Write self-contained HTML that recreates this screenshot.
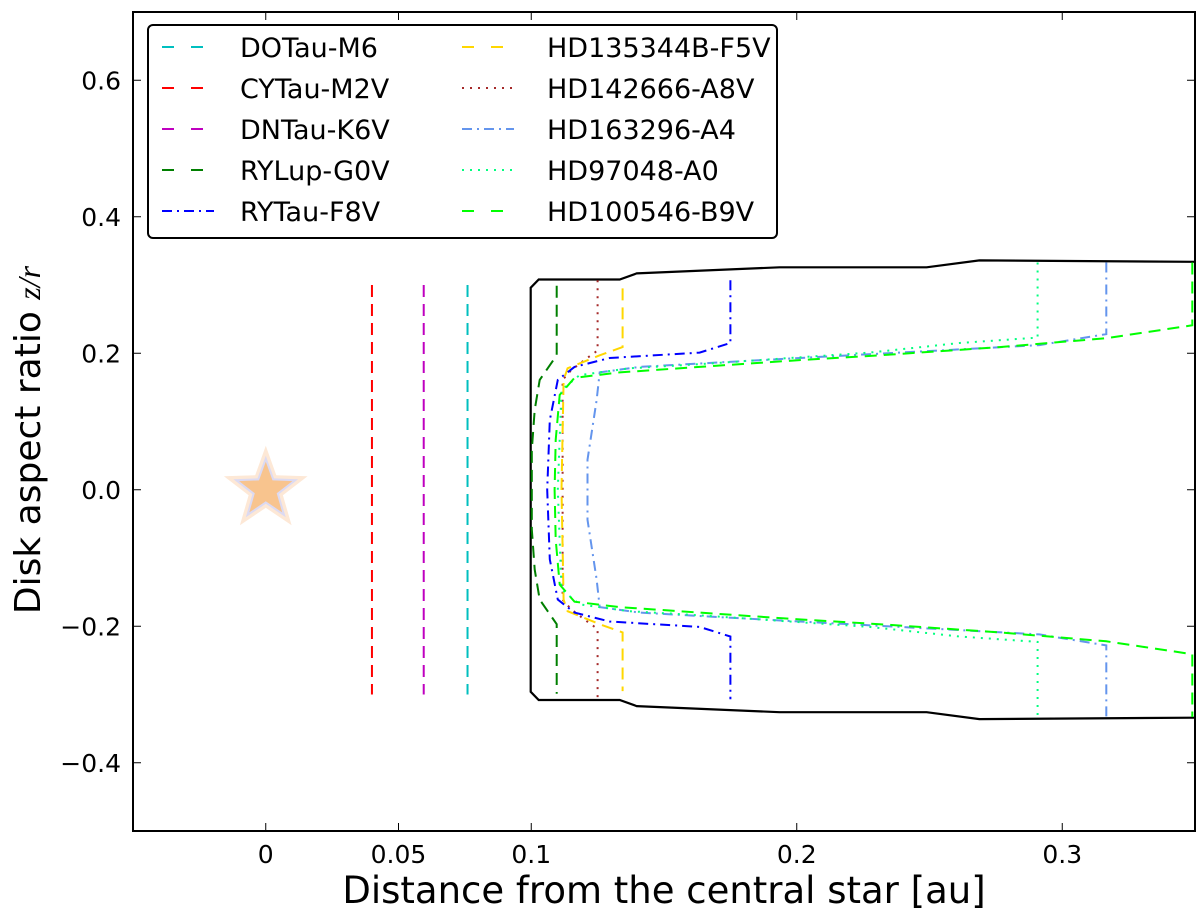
<!DOCTYPE html>
<html><head><meta charset="utf-8"><style>
html,body{margin:0;padding:0;background:#fff;}
svg{display:block;font-family:"DejaVu Sans","Liberation Sans",sans-serif;}
</style></head><body>
<svg id="chart" width="1200" height="911" viewBox="0 0 1200 911">
<g id="plot"></g>
<g id="axes"></g>
<g id="legend"></g>
</svg>
<script>
const xDomain = [-0.05, 0.35];
const yDomain = [-0.5, 0.7];
const xTicks = [0, 0.05, 0.1, 0.2, 0.3];
const xTickLabels = ["0", "0.05", "0.1", "0.2", "0.3"];
const yTicks = [-0.4, -0.2, 0.0, 0.2, 0.4, 0.6];
const yTickLabels = ["\u22120.4", "\u22120.2", "0.0", "0.2", "0.4", "0.6"];
const ringNames = ["DOTau-M6", "CYTau-M2V", "DNTau-K6V"];
const ringX = [0.076, 0.04, 0.0595];
const ringZ = [0.3, 0.3, 0.3];
// profiles ordered from outer top edge inward to midplane (z=0)
const blackX = [0.3498, 0.2688, 0.2489, 0.1935, 0.1397, 0.1333, 0.1028, 0.0998, 0.0998];
const blackZ = [0.334, 0.336, 0.326, 0.326, 0.317, 0.308, 0.308, 0.296, 0];
const rylupX = [0.1096, 0.1096, 0.1062, 0.1032, 0.1013, 0.1002, 0.1002];
const rylupZ = [0.299, 0.197, 0.178, 0.161, 0.117, 0.058, 0];
const rytauX = [0.175, 0.175, 0.1634, 0.1295, 0.1163, 0.110, 0.107, 0.106];
const rytauZ = [0.307, 0.215, 0.201, 0.193, 0.180, 0.161, 0.102, 0];
const hd135X = [0.1344, 0.1344, 0.1258, 0.1137, 0.1122, 0.1114];
const hd135Z = [0.295, 0.209, 0.197, 0.178, 0.161, 0];
const hd142X = [0.125, 0.125, 0.120, 0.115, 0.1118, 0.1118];
const hd142Z = [0.307, 0.204, 0.190, 0.175, 0.161, 0];
const hd163X = [0.3166, 0.3166, 0.2914, 0.2387, 0.201, 0.1634, 0.1408, 0.1258, 0.1246, 0.1212, 0.1212];
const hd163Z = [0.333, 0.228, 0.212, 0.201, 0.193, 0.185, 0.180, 0.172, 0.131, 0.044, 0];
const hd970X = [0.2907, 0.2907, 0.2613, 0.2274, 0.1973, 0.1634, 0.137, 0.1182, 0.1114, 0.110];
const hd970Z = [0.333, 0.223, 0.215, 0.201, 0.193, 0.184, 0.178, 0.168, 0.146, 0];
const hd100X = [0.349, 0.349, 0.3166, 0.2764, 0.2312, 0.201, 0.1634, 0.1333, 0.1163, 0.1107, 0.1092, 0.1088];
const hd100Z = [0.333, 0.241, 0.222, 0.209, 0.197, 0.190, 0.180, 0.172, 0.164, 0.139, 0.073, 0];

const L=133,R=1195,T=12,B=831;
const sx=v=>L+(v-xDomain[0])/(xDomain[1]-xDomain[0])*(R-L);
const sy=v=>B-(v-yDomain[0])/(yDomain[1]-yDomain[0])*(B-T);
const NS="http://www.w3.org/2000/svg";
function mk(tag,attrs,parent){const e=document.createElementNS(NS,tag);for(const k in attrs)e.setAttribute(k,attrs[k]);parent.appendChild(e);return e;}
const plot=document.getElementById('plot'),axes=document.getElementById('axes'),leg=document.getElementById('legend');
const styles={dash:"12,7", dot:"2,6", dashdot:"10,5,2,5", solid:"none"};
function profilePath(X,Z){
  const up=X.map((x,i)=>[sx(x),sy(Z[i])]);
  const down=X.map((x,i)=>[sx(x),sy(-Z[i])]).reverse();
  return "M"+up.concat(down).map(p=>p[0].toFixed(1)+","+p[1].toFixed(1)).join(" L");
}
function starPts(cx,cy,ro,ri){let p=[];for(let i=0;i<10;i++){const a=-Math.PI/2+i*Math.PI/5;const r=i%2?ri:ro;p.push((cx+r*Math.cos(a)).toFixed(1)+","+(cy+r*Math.sin(a)).toFixed(1));}return p.join(" ");}
const starG=mk('g',{},plot);


mk('polygon',{points:starPts(sx(0),sy(0),44,18),fill:"#fde8d6"},starG);
mk('polygon',{points:starPts(sx(0),sy(0),34,14),fill:"#dcdaf2"},starG);
mk('polygon',{points:starPts(sx(0),sy(0),28,11.5),fill:"#f8c48e"},starG);

const bk=mk('path',{d:profilePath(blackX,blackZ),fill:"none",stroke:"#000","stroke-width":2.2},plot);



const ringColors=["#00bfbf","#ff0000","#bf00bf"];
ringX.forEach((x,i)=>{
  const l=mk('line',{x1:sx(x),x2:sx(x),y1:sy(ringZ[i]),y2:sy(-ringZ[i]),stroke:ringColors[i],"stroke-width":2,"stroke-dasharray":styles.dash},plot);
  
  
});
const disks=[
 {n:"rylup",X:rylupX,Z:rylupZ,c:"#007f00",s:"dash"},
 {n:"hd142666",X:hd142X,Z:hd142Z,c:"#a52a2a",s:"dot"},
 {n:"hd135344b",X:hd135X,Z:hd135Z,c:"#ffd700",s:"dash"},
 {n:"rytau",X:rytauX,Z:rytauZ,c:"#0000ff",s:"dashdot"},
 {n:"hd163296",X:hd163X,Z:hd163Z,c:"#6495ed",s:"dashdot"},
 {n:"hd97048",X:hd970X,Z:hd970Z,c:"#00ff7f",s:"dot"},
 {n:"hd100546",X:hd100X,Z:hd100Z,c:"#00ff00",s:"dash"}
];
disks.forEach(d=>{
  const p=mk('path',{d:profilePath(d.X,d.Z),fill:"none",stroke:d.c,"stroke-width":2,"stroke-dasharray":styles[d.s]},plot);
  
  
});

const fr=mk('rect',{x:L,y:T,width:R-L,height:B-T,fill:"none",stroke:"#000","stroke-width":2},axes);


xTicks.forEach((v,i)=>{
  const x=sx(v);
  mk('line',{x1:x,x2:x,y1:B,y2:B-8,stroke:"#000","stroke-width":1},axes);
  mk('line',{x1:x,x2:x,y1:T,y2:T+8,stroke:"#000","stroke-width":1},axes);
  const t=mk('text',{x:x,y:863,"text-anchor":"middle","font-size":25},axes);
  t.textContent=xTickLabels[i];
  
  
});
yTicks.forEach((v,i)=>{
  const y=sy(v);
  mk('line',{x1:L,x2:L+8,y1:y,y2:y,stroke:"#000","stroke-width":1},axes);
  mk('line',{x1:R,x2:R-8,y1:y,y2:y,stroke:"#000","stroke-width":1},axes);
  const t=mk('text',{x:121,y:y+9,"text-anchor":"end","font-size":25},axes);
  t.textContent=yTickLabels[i];
  
  
});
const xl=mk('text',{x:664,y:903,"text-anchor":"middle","font-size":37},axes);
xl.textContent="Distance from the central star [au]";


const yl=mk('text',{x:0,y:0,"text-anchor":"middle","font-size":36,transform:"translate(40,440) rotate(-90)"},axes);
yl.innerHTML='Disk aspect ratio <tspan font-family="Liberation Serif, serif" font-style="italic" font-size="32">z/r</tspan>';



const lb=mk('rect',{x:148,y:25,width:629,height:213,rx:5,fill:"#fff",stroke:"#000","stroke-width":2},leg);


const legNames=["DOTau-M6","CYTau-M2V","DNTau-K6V","RYLup-G0V","RYTau-F8V","HD135344B-F5V","HD142666-A8V","HD163296-A4","HD97048-A0","HD100546-B9V"];
const legColors=["#00bfbf","#ff0000","#bf00bf","#007f00","#0000ff","#ffd700","#a52a2a","#6495ed","#00ff7f","#00ff00"];
const legStyles=["dash","dash","dash","dash","dashdot","dash","dot","dashdot","dot","dash"];
legNames.forEach((n,i)=>{
  const col=Math.floor(i/5),row=i%5;
  const y=47+row*41;
  const hx=col?462:162, tx=col?547:240;
  const g=mk('g',{},leg);
  
  
  mk('line',{x1:hx,x2:hx+52,y1:y,y2:y,stroke:legColors[i],"stroke-width":2,"stroke-dasharray":legStyles[i]==="dash"?"12,17":styles[legStyles[i]]},g);
  const t=mk('text',{x:tx,y:y+10,"font-size":27},g);
  t.textContent=n;
});
</script>
</body></html>
